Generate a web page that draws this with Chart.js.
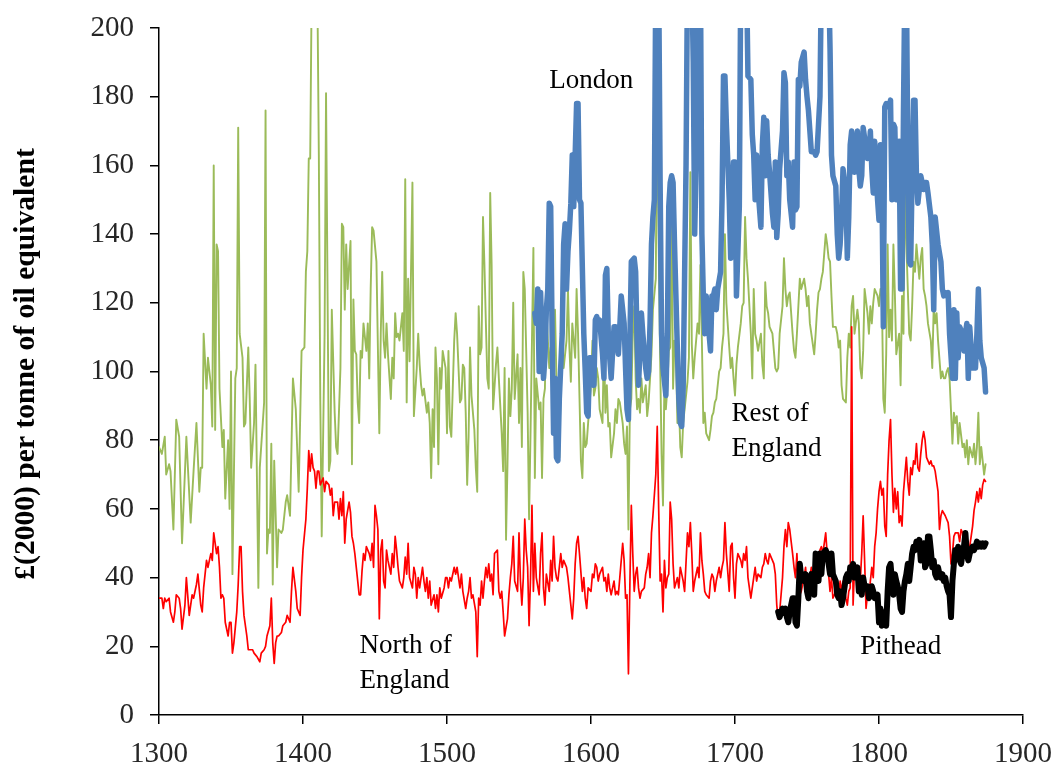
<!DOCTYPE html>
<html>
<head>
<meta charset="utf-8">
<script src="https://cdn.jsdelivr.net/npm/chart.js@4.4.0/dist/chart.umd.min.js"></script>
<style>
html,body{margin:0;padding:0;background:#fff;}
#wrap{width:1064px;height:776px;position:relative;}
canvas{display:block;}
</style>
</head>
<body>
<div id="wrap"><canvas id="c" width="1064" height="776"></canvas></div>
<script>
// ---- tick labels ----
const xTicks = [1300, 1400, 1500, 1600, 1700, 1800, 1900];
const yTicks = [0, 20, 40, 60, 80, 100, 120, 140, 160, 180, 200];
const yAxisTitle = '£(2000) per tonne of oil equivalent';

// ---- series names ----
const seriesNames = ['Rest of England', 'North of England', 'London', 'Pithead'];

// ---- series values: [year, £(2000) per toe] ----
const restOfEngland = [[1300,78],[1302,76],[1304,81],[1305,70],[1307,73],[1308,71],[1310,54],[1312,86],[1314,81],[1316,50],[1319,81],[1322,56],[1324,71],[1326,85],[1328,65],[1329,72],[1330,72],[1331,111],[1333,95],[1334,104],[1336,96],[1337,84],[1338,160],[1339,83],[1340,137],[1341,135],[1342,95],[1344,78],[1345,83],[1346,63],[1348,80],[1349,60],[1350,100],[1351,41],[1353,98],[1354,101],[1355,171],[1356,111],[1358,104],[1359,84],[1360,85],[1362,107],[1363,92],[1364,72],[1366,85],[1367,102],[1369,37],[1370,72],[1373,91],[1374,176],[1375,47],[1376,54],[1377,53],[1378,79],[1379,38],[1380,74],[1382,43],[1383,54],[1385,53],[1386,54],[1388,62],[1389,64],[1391,58],[1393,98],[1395,89],[1397,65],[1399,106],[1401,107],[1402,129],[1403,135],[1404,162],[1405,162],[1406,210],[1408,210],[1410,210],[1411,163],[1412,92],[1413,52],[1415,111],[1416,181],[1418,71],[1419,74],[1420,118],[1422,88],[1423,78],[1424,76],[1426,101],[1427,143],[1428,142],[1429,118],[1430,137],[1431,124],[1433,138],[1434,73],[1435,121],[1436,106],[1437,105],[1438,91],[1439,85],[1440,106],[1441,104],[1442,114],[1444,106],[1445,114],[1446,98],[1447,124],[1448,142],[1449,141],[1451,132],[1453,82],[1454,111],[1455,129],[1456,109],[1457,104],[1458,114],[1459,105],[1461,92],[1462,104],[1463,98],[1464,117],[1465,110],[1466,111],[1467,109],[1469,117],[1470,106],[1471,156],[1472,91],[1473,127],[1474,103],[1476,155],[1477,87],[1479,101],[1480,111],[1481,102],[1482,96],[1483,93],[1484,95],[1486,88],[1487,91],[1488,85],[1489,69],[1490,89],[1491,78],[1492,107],[1493,98],[1494,73],[1495,101],[1496,95],[1497,106],[1499,101],[1500,82],[1501,106],[1502,84],[1503,81],[1505,109],[1506,117],[1507,111],[1508,101],[1509,91],[1510,92],[1511,102],[1512,101],[1513,88],[1514,67],[1515,81],[1516,107],[1517,93],[1519,83],[1520,72],[1521,65],[1522,119],[1523,105],[1524,107],[1525,145],[1526,131],[1527,114],[1528,98],[1529,95],[1530,152],[1531,131],[1532,89],[1534,102],[1535,107],[1536,98],[1538,82],[1539,71],[1540,101],[1541,51],[1542,73],[1543,98],[1544,87],[1545,95],[1546,120],[1547,92],[1549,105],[1550,85],[1551,101],[1552,78],[1553,129],[1554,124],[1556,88],[1557,57],[1558,82],[1559,109],[1560,136],[1561,69],[1562,98],[1564,89],[1565,91],[1566,69],[1567,92],[1568,95],[1569,118],[1571,101],[1572,107],[1573,101],[1574,111],[1575,118],[1576,98],[1578,75],[1579,98],[1580,111],[1581,101],[1583,109],[1584,124],[1585,107],[1586,97],[1587,114],[1589,104],[1590,124],[1591,111],[1593,74],[1594,69],[1595,85],[1596,78],[1597,79],[1598,85],[1600,96],[1601,109],[1602,93],[1603,95],[1604,101],[1605,98],[1606,89],[1608,85],[1609,109],[1610,88],[1611,96],[1612,84],[1613,85],[1614,75],[1616,82],[1617,89],[1618,85],[1619,92],[1620,91],[1622,85],[1623,79],[1624,76],[1625,84],[1626,54],[1627,89],[1628,92],[1629,111],[1630,119],[1631,98],[1632,89],[1633,92],[1634,88],[1635,98],[1636,91],[1638,96],[1639,87],[1640,91],[1641,98],[1642,105],[1643,118],[1645,127],[1646,188],[1647,137],[1648,104],[1649,76],[1650,61],[1651,98],[1652,89],[1653,95],[1654,106],[1655,107],[1656,146],[1657,95],[1658,109],[1659,105],[1660,85],[1661,92],[1662,78],[1663,75],[1664,85],[1665,89],[1667,97],[1668,104],[1669,158],[1670,108],[1671,98],[1672,104],[1674,114],[1675,111],[1676,131],[1677,109],[1678,85],[1679,88],[1680,82],[1682,80],[1683,83],[1684,87],[1685,88],[1686,91],[1687,92],[1689,100],[1690,101],[1691,107],[1692,111],[1693,140],[1694,120],[1696,107],[1697,101],[1698,104],[1699,98],[1700,93],[1701,102],[1702,107],[1704,114],[1705,119],[1706,120],[1707,145],[1708,133],[1709,127],[1711,111],[1712,98],[1713,124],[1714,111],[1715,109],[1716,106],[1718,111],[1719,102],[1720,98],[1721,126],[1722,119],[1723,117],[1724,113],[1726,111],[1727,106],[1728,101],[1729,100],[1730,101],[1731,111],[1733,119],[1734,133],[1735,124],[1736,119],[1737,122],[1738,123],[1740,111],[1741,106],[1742,104],[1743,111],[1744,119],[1745,127],[1746,124],[1748,127],[1749,124],[1750,119],[1751,122],[1752,114],[1753,111],[1755,105],[1756,111],[1757,118],[1758,123],[1759,124],[1760,127],[1761,129],[1763,140],[1764,137],[1765,133],[1766,132],[1767,122],[1768,113],[1770,113],[1771,111],[1772,107],[1773,109],[1774,96],[1775,92],[1777,91],[1778,104],[1779,111],[1780,107],[1781,119],[1782,122],[1783,111],[1785,118],[1786,114],[1787,101],[1788,98],[1789,106],[1790,124],[1792,117],[1793,111],[1794,119],[1795,114],[1796,120],[1797,124],[1799,122],[1800,119],[1801,124],[1802,122],[1803,92],[1804,88],[1805,105],[1806,137],[1807,110],[1808,118],[1809,109],[1810,137],[1811,123],[1812,105],[1814,111],[1815,96],[1816,122],[1817,111],[1818,159],[1819,137],[1821,111],[1822,109],[1823,119],[1824,132],[1825,129],[1826,137],[1828,127],[1829,133],[1830,136],[1831,124],[1832,122],[1833,119],[1834,114],[1836,109],[1837,101],[1838,119],[1839,114],[1840,117],[1841,109],[1843,98],[1844,100],[1845,98],[1846,98],[1847,100],[1848,101],[1849,98],[1851,79],[1852,88],[1853,85],[1854,87],[1855,79],[1856,85],[1858,78],[1859,79],[1860,75],[1861,80],[1862,73],[1863,78],[1865,75],[1866,79],[1867,73],[1868,78],[1869,88],[1870,73],[1871,78],[1873,70],[1874,73]];

const northOfEngland = [[1300,34],[1302,34],[1303,31],[1304,34],[1305,33],[1307,34],[1308,30],[1310,27],[1311,30],[1312,35],[1314,34],[1315,31],[1316,25],[1318,32],[1319,40],[1321,29],[1323,35],[1324,34],[1326,38],[1327,41],[1329,32],[1330,30],[1331,37],[1333,45],[1334,43],[1336,47],[1337,45],[1338,53],[1340,47],[1341,49],[1342,43],[1343,34],[1344,35],[1345,34],[1346,27],[1348,23],[1349,27],[1350,27],[1351,18],[1352,21],[1354,30],[1355,38],[1356,49],[1357,49],[1358,36],[1359,29],[1361,23],[1362,19],[1363,19],[1365,19],[1366,18],[1368,17],[1370,15.5],[1371,18],[1373,19],[1374,20],[1375,23],[1377,26],[1378,34],[1379,21],[1380,15],[1381,21],[1382,23],[1383,23],[1385,24],[1386,26],[1388,27],[1389,29],[1391,27],[1392,36],[1393,43],[1395,36],[1396,31],[1398,29],[1399,40],[1400,48],[1402,57],[1403,66],[1404,77],[1405,71],[1406,76],[1407,72],[1408,71],[1409,66],[1410,71],[1411,71],[1412,67],[1414,69],[1415,65],[1416,68],[1418,67],[1419,64],[1420,66],[1421,58],[1422,62],[1424,62],[1425,57],[1426,63],[1427,58],[1428,65],[1429,50],[1430,57],[1432,62],[1433,59],[1434,52],[1435,50],[1436,47],[1437,43],[1439,35],[1440,35],[1441,42],[1442,47],[1443,45],[1444,49],[1446,47],[1447,45],[1448,50],[1449,43],[1450,61],[1451,58],[1452,54],[1453,28],[1454,48],[1455,51],[1456,39],[1457,37],[1458,48],[1459,45],[1461,41],[1462,47],[1463,43],[1464,52],[1465,48],[1466,43],[1467,39],[1469,37],[1470,40],[1471,46],[1472,41],[1473,50],[1474,40],[1476,37],[1477,43],[1478,41],[1479,34],[1480,40],[1481,37],[1483,43],[1484,39],[1485,36],[1486,40],[1487,34],[1488,39],[1489,32],[1491,35],[1492,31],[1493,35],[1494,30],[1495,37],[1496,34],[1498,37],[1499,40],[1500,40],[1501,37],[1502,40],[1503,39],[1505,43],[1506,41],[1507,43],[1508,40],[1509,37],[1510,41],[1511,36],[1513,31],[1514,34],[1515,36],[1516,40],[1517,34],[1518,35],[1520,30],[1521,17],[1522,34],[1523,32],[1524,39],[1525,34],[1526,39],[1527,43],[1528,40],[1529,44],[1530,39],[1531,41],[1532,35],[1533,47],[1535,48],[1536,36],[1537,34],[1538,36],[1539,30],[1540,23],[1542,28],[1543,35],[1544,40],[1545,44],[1546,52],[1547,39],[1549,36],[1550,53],[1551,39],[1552,32],[1553,40],[1554,57],[1555,48],[1556,43],[1557,26],[1558,40],[1559,61],[1560,36],[1561,50],[1562,40],[1564,35],[1565,47],[1566,53],[1567,37],[1568,32],[1569,41],[1571,36],[1572,45],[1573,39],[1574,52],[1575,43],[1576,40],[1577,39],[1579,47],[1580,43],[1581,45],[1582,44],[1583,43],[1584,40],[1586,32],[1587,28],[1588,34],[1589,44],[1590,50],[1591,52],[1592,47],[1594,36],[1595,40],[1596,34],[1597,31],[1598,37],[1600,36],[1601,41],[1602,40],[1603,44],[1604,43],[1605,39],[1606,41],[1608,43],[1609,39],[1610,40],[1611,36],[1612,41],[1613,37],[1614,35],[1616,39],[1617,35],[1618,36],[1619,35],[1620,40],[1622,50],[1623,45],[1624,34],[1625,35],[1626,12],[1627,38],[1628,61],[1629,47],[1630,36],[1631,41],[1632,43],[1633,37],[1634,34],[1635,36],[1637,37],[1638,41],[1639,43],[1640,47],[1641,40],[1642,53],[1643,58],[1645,70],[1646,84],[1647,60],[1648,39],[1649,41],[1650,30],[1651,45],[1652,37],[1653,40],[1654,41],[1655,62],[1656,57],[1657,44],[1658,37],[1660,40],[1661,37],[1662,43],[1663,41],[1664,39],[1665,36],[1667,53],[1668,49],[1669,56],[1670,47],[1671,36],[1672,39],[1674,43],[1675,40],[1676,53],[1677,45],[1678,41],[1679,36],[1680,35],[1682,34],[1683,39],[1684,41],[1685,40],[1686,36],[1687,39],[1689,43],[1690,40],[1691,43],[1692,45],[1693,56],[1694,47],[1696,36],[1697,49],[1698,50],[1699,40],[1700,34],[1701,44],[1702,47],[1704,45],[1705,43],[1706,47],[1707,45],[1708,49],[1709,40],[1711,34],[1712,37],[1713,40],[1714,43],[1715,39],[1716,41],[1718,40],[1719,43],[1720,44],[1721,47],[1722,45],[1723,44],[1724,47],[1726,45],[1727,44],[1728,41],[1729,32],[1730,28],[1731,30],[1733,40],[1734,49],[1735,54],[1736,49],[1737,56],[1738,54],[1740,47],[1741,43],[1742,40],[1743,47],[1744,37],[1745,35],[1746,36],[1748,40],[1749,43],[1750,37],[1751,35],[1752,40],[1753,43],[1755,36],[1756,40],[1757,43],[1758,40],[1759,48],[1760,49],[1761,47],[1763,53],[1764,47],[1765,41],[1766,36],[1767,40],[1768,34],[1770,36],[1771,37],[1772,35],[1773,39],[1774,36],[1775,39],[1777,34],[1778,32],[1779,36],[1780,37],[1781,113],[1782,32],[1783,43],[1785,40],[1786,36],[1787,39],[1788,47],[1789,58],[1790,45],[1791,31],[1792,35],[1793,34],[1794,39],[1795,43],[1796,40],[1797,49],[1798,53],[1799,60],[1800,65],[1801,68],[1802,64],[1803,66],[1804,55],[1805,52],[1806,70],[1807,80],[1808,86],[1809,70],[1810,59],[1811,66],[1812,60],[1813,65],[1814,56],[1815,58],[1816,55],[1817,65],[1818,70],[1819,75],[1820,68],[1821,64],[1822,72],[1823,70],[1824,74],[1825,73],[1826,79],[1827,72],[1828,71],[1829,76],[1830,80],[1831,82.5],[1832,80],[1833,75],[1834,74],[1835,73],[1836,74],[1837,72.5],[1838,72.5],[1839,71],[1840,68],[1841,65],[1842,54],[1843,58],[1844,59.5],[1846,58],[1847,57],[1848,56],[1849,52],[1850,44],[1851,47],[1852,52],[1853,53],[1854,53],[1855,53],[1856,50.5],[1857,54],[1858,53],[1859,48],[1860,47],[1861,49],[1862,45],[1863,49],[1864,52],[1865,55],[1866,59.5],[1867,62],[1868,65],[1869,62],[1870,66],[1871,63],[1872,67],[1873,68.6],[1874,68]];

const london = [[1561,117],[1562,114],[1563,124],[1564,100],[1565,123],[1566,109],[1567,98],[1568,104],[1569,118],[1570,124],[1571,149],[1572,148],[1573,111],[1574,82],[1575,98],[1576,75],[1577,74],[1578,92],[1580,111],[1581,137],[1582,143],[1583,124],[1584,135],[1585,141],[1586,149],[1587,163],[1588,148],[1589,163],[1590,178],[1591,178],[1592,150],[1593,149],[1595,111],[1596,100],[1597,88],[1598,87],[1599,104],[1601,104],[1602,96],[1603,115],[1604,116],[1605,114],[1606,115],[1608,105],[1609,98],[1610,128],[1611,130],[1612,111],[1613,104],[1614,98],[1616,113],[1617,113],[1618,109],[1619,105],[1620,113],[1621,122],[1623,114],[1624,101],[1625,89],[1626,86],[1627,109],[1628,132],[1630,133],[1631,129],[1632,109],[1633,96],[1634,106],[1635,117],[1636,111],[1638,101],[1639,98],[1640,100],[1641,114],[1642,137],[1643,145],[1644,150],[1645,215],[1646,215],[1647,215],[1648,155],[1649,111],[1650,101],[1652,93],[1653,111],[1654,148],[1655,155],[1656,157],[1657,155],[1658,137],[1660,106],[1661,92],[1662,85],[1663,84],[1664,95],[1665,128],[1666,160],[1667,215],[1668,215],[1669,215],[1670,215],[1671,190],[1672,140],[1673,160],[1674,215],[1675,215],[1676,215],[1677,140],[1678,122],[1679,111],[1680,122],[1682,111],[1683,106],[1684,122],[1685,122],[1686,124],[1687,118],[1688,124],[1690,129],[1691,150],[1692,186],[1693,186],[1694,172],[1696,150],[1697,133],[1698,150],[1699,161],[1700,161],[1701,122],[1702,135],[1703,148],[1704,215],[1705,215],[1706,215],[1707,215],[1708,215],[1709,186],[1711,185],[1712,169],[1713,163],[1714,150],[1715,163],[1716,153],[1718,142],[1719,166],[1720,174],[1721,157],[1722,173],[1723,163],[1724,158],[1726,146],[1727,142],[1728,161],[1729,139],[1730,146],[1731,159],[1733,170],[1734,187],[1735,184],[1736,157],[1737,161],[1738,150],[1740,142],[1741,161],[1742,147],[1743,148],[1744,185],[1745,183],[1746,190],[1748,193],[1749,185],[1750,180],[1751,176],[1752,170],[1753,164],[1755,164],[1756,163],[1757,164],[1758,172],[1759,180],[1760,215],[1761,215],[1762,215],[1763,215],[1764,215],[1765,215],[1766,194],[1767,163],[1768,157],[1770,154],[1771,140],[1772,133],[1773,137],[1774,145],[1775,159],[1777,152],[1778,133],[1779,145],[1780,166],[1781,170],[1782,163],[1783,158],[1785,170],[1786,159],[1787,154],[1788,157],[1789,171],[1790,168],[1792,162],[1793,163],[1794,170],[1795,159],[1796,152],[1797,167],[1799,150],[1800,144],[1801,166],[1802,157],[1803,113],[1804,177],[1805,178],[1807,177],[1808,179],[1809,150],[1810,172],[1811,171],[1812,150],[1814,167],[1815,124],[1816,124],[1817,176],[1818,215],[1819,215],[1820,163],[1821,132],[1822,131],[1823,157],[1824,179],[1825,179],[1826,157],[1827,149],[1829,157],[1830,155],[1831,153],[1832,155],[1833,155],[1834,152],[1836,145],[1837,137],[1838,118],[1839,145],[1840,141],[1841,137],[1843,132],[1844,124],[1845,122],[1846,123],[1847,122],[1848,123],[1849,111],[1851,98],[1852,118],[1853,98],[1854,117],[1855,104],[1856,113],[1858,111],[1859,106],[1860,111],[1861,114],[1862,98],[1863,113],[1865,101],[1866,104],[1867,101],[1868,111],[1869,124],[1870,109],[1871,104],[1873,101],[1874,94]];

const pithead = [[1730,30],[1731,28.5],[1733,31],[1734,30],[1735,31],[1736,28.5],[1737,27],[1738,30],[1740,34],[1741,34],[1742,27],[1743,26],[1744,34],[1745,44],[1746,40],[1748,39],[1749,41],[1750,36],[1751,34],[1752,39],[1753,41],[1755,35],[1756,47],[1757,45],[1758,39],[1759,47],[1760,41],[1761,47],[1763,48],[1764,47],[1765,44],[1766,41],[1767,47],[1768,41],[1770,39],[1771,35],[1772,34],[1773,36],[1774,32],[1775,34],[1777,40],[1778,41],[1779,39],[1780,43],[1781,41],[1782,44],[1783,40],[1785,43],[1786,36],[1787,37.5],[1788,35],[1789,40],[1790,37.5],[1792,37.5],[1793,34],[1794,35],[1795,37.5],[1796,36],[1797,34],[1799,35],[1800,27],[1801,31],[1802,26],[1803,27],[1804,30],[1805,26],[1806,36],[1807,43],[1808,44],[1809,39],[1810,35],[1811,41],[1812,39],[1813,37.5],[1814,35],[1815,31],[1816,30],[1817,36],[1818,39],[1819,41],[1820,44],[1821,39],[1822,43],[1823,47],[1824,49],[1825,48],[1826,50.5],[1827,49],[1828,51],[1829,45],[1830,47],[1831,50],[1832,43],[1833,44],[1834,52],[1835,52],[1836,48],[1837,43],[1838,45],[1839,41],[1840,40],[1841,43],[1842,41],[1843,40],[1844,41],[1845,39],[1846,40],[1847,37.5],[1848,36],[1849,35],[1850,28.5],[1851,39],[1852,44],[1853,48],[1854,47],[1855,49],[1856,45],[1857,44],[1858,47],[1859,49],[1860,53],[1861,47],[1862,45],[1863,47],[1864,48],[1865,49],[1866,48],[1867,49],[1868,50.5],[1869,49],[1870,50],[1871,49],[1872,50],[1873,49],[1874,50]];

// ---- text labels placed in data coordinates ----
const seriesLabels = [
  { lines: ['London'], x: 1571, y: 184.5 },
  { lines: ['Rest of', 'England'], x: 1697.5, y: 87.6 },
  { lines: ['North of', 'England'], x: 1439.2, y: 20.1 },
  { lines: ['Pithead'], x: 1787, y: 19.8 }
];

const SERIF = '"Liberation Serif", "Times New Roman", serif';
const toXY = arr => arr.map(p => ({ x: p[0], y: p[1] }));

const textPlugin = {
  id: 'chartTexts',
  afterDraw(chart) {
    const { ctx, scales: { x, y } } = chart;
    ctx.save();
    ctx.font = '27px ' + SERIF;
    ctx.fillStyle = '#000';
    ctx.textAlign = 'left';
    ctx.textBaseline = 'middle';
    const lh = 35;
    seriesLabels.forEach(l => {
      const px = x.getPixelForValue(l.x);
      const py = y.getPixelForValue(l.y);
      l.lines.forEach((t, i) => ctx.fillText(t, px, py + i * lh));
    });
    ctx.translate(26, 364);
    ctx.rotate(-Math.PI / 2);
    ctx.font = 'bold 29.6px ' + SERIF;
    ctx.textAlign = 'center';
    ctx.fillText(yAxisTitle, 0, 0);
    ctx.restore();
  }
};

const lineDs = (label, data, color, width, order) => ({
  label, data: toXY(data), borderColor: color, backgroundColor: color,
  borderWidth: width, pointRadius: 0, tension: 0, fill: false,
  borderJoinStyle: 'round', borderCapStyle: 'round', clip: 0, order
});

new Chart(document.getElementById('c'), {
  type: 'line',
  data: {
    datasets: [
      lineDs(seriesNames[3], pithead, '#000000', 6, 1),
      lineDs(seriesNames[2], london, '#4F81BD', 5.5, 2),
      lineDs(seriesNames[1], northOfEngland, '#FF0000', 1.7, 3),
      lineDs(seriesNames[0], restOfEngland, '#9BBB59', 1.9, 4)
    ]
  },
  options: {
    responsive: false,
    animation: false,
    devicePixelRatio: 1,
    layout: { padding: { left: 0, right: 41, top: 28, bottom: 0 } },
    plugins: { legend: { display: false }, tooltip: { enabled: false } },
    scales: {
      x: {
        type: 'linear', min: 1300, max: 1900,
        afterBuildTicks: s => { s.ticks = xTicks.map(v => ({ value: v })); },
        afterFit: s => { s.height = 61; s.paddingLeft = 0; s.paddingRight = 0; },
        border: { display: true, color: '#000', width: 1.5 },
        grid: { display: true, drawOnChartArea: false, drawTicks: true, tickLength: 9, color: '#000', lineWidth: 1.5 },
        ticks: { color: '#262626', font: { family: SERIF, size: 29 }, padding: 13, maxRotation: 0, callback: v => String(v) }
      },
      y: {
        type: 'linear', min: 0, max: 200,
        afterBuildTicks: s => { s.ticks = yTicks.map(v => ({ value: v })); },
        afterFit: s => { s.width = 159; s.paddingTop = 0; s.paddingBottom = 0; },
        border: { display: true, color: '#000', width: 1.5 },
        grid: { display: true, drawOnChartArea: false, drawTicks: true, tickLength: 9, color: '#000', lineWidth: 1.5 },
        ticks: { color: '#262626', font: { family: SERIF, size: 29 }, padding: 16, callback: v => String(v) }
      }
    }
  },
  plugins: [textPlugin]
});
</script>
</body>
</html>
